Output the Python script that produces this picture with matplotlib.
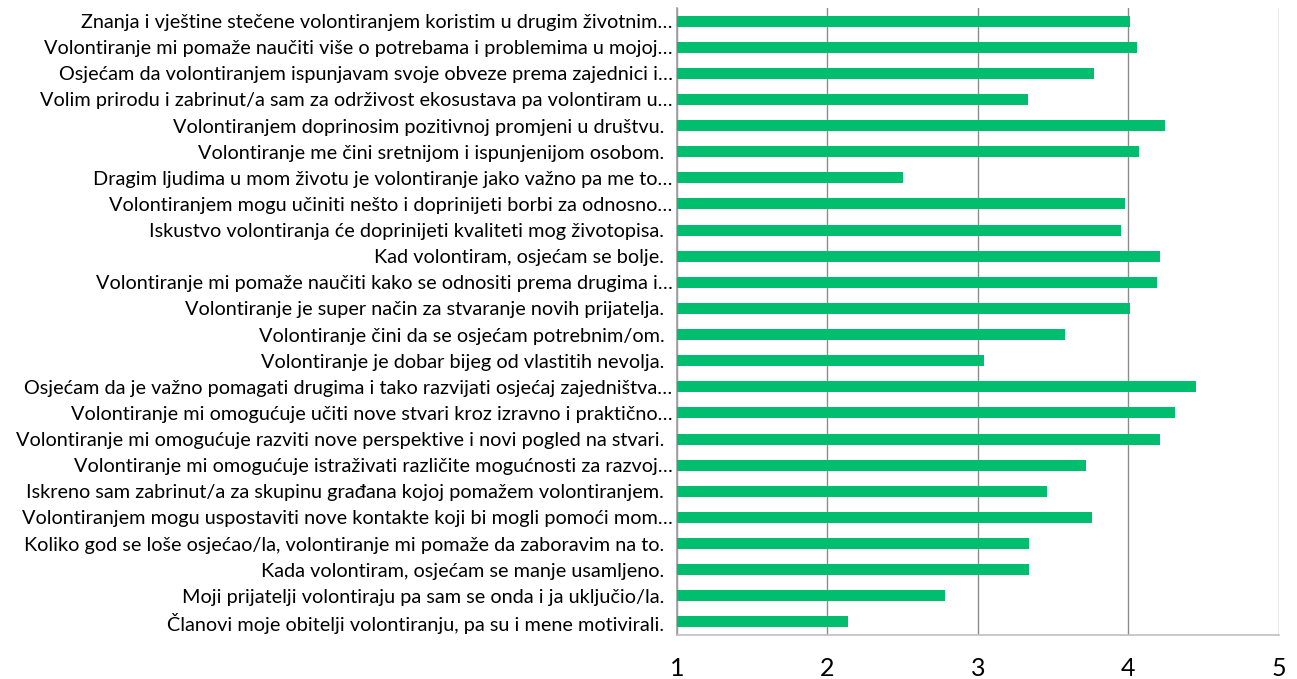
import matplotlib
matplotlib.use('Agg')
import matplotlib.pyplot as plt
import matplotlib.transforms as mtransforms
import numpy as np

plt.rcParams['font.family'] = ['Lato', 'DejaVu Sans']

# categories, top to bottom as in the chart
labels = [
    'Znanja i vještine stečene volontiranjem koristim u drugim životnim…',
    'Volontiranje mi pomaže naučiti više o potrebama i problemima u mojoj…',
    'Osjećam da volontiranjem ispunjavam svoje obveze prema zajednici i…',
    'Volim prirodu i zabrinut/a sam za održivost ekosustava pa volontiram u…',
    'Volontiranjem doprinosim pozitivnoj promjeni u društvu. ',
    'Volontiranje me čini sretnijom i ispunjenijom osobom. ',
    'Dragim ljudima u mom životu je volontiranje jako važno pa me to…',
    'Volontiranjem mogu učiniti nešto i doprinijeti borbi za odnosno…',
    'Iskustvo volontiranja će doprinijeti kvaliteti mog životopisa. ',
    'Kad volontiram, osjećam se bolje. ',
    'Volontiranje mi pomaže naučiti kako se odnositi prema drugima i…',
    'Volontiranje je super način za stvaranje novih prijatelja. ',
    'Volontiranje čini da se osjećam potrebnim/om. ',
    'Volontiranje je dobar bijeg od vlastitih nevolja. ',
    'Osjećam da je važno pomagati drugima i tako razvijati osjećaj zajedništva…',
    'Volontiranje mi omogućuje učiti nove stvari kroz izravno i praktično…',
    'Volontiranje mi omogućuje razviti nove perspektive i novi pogled na stvari. ',
    'Volontiranje mi omogućuje istraživati različite mogućnosti za razvoj…',
    'Iskreno sam zabrinut/a za skupinu građana kojoj pomažem volontiranjem. ',
    'Volontiranjem mogu uspostaviti nove kontakte koji bi mogli pomoći mom…',
    'Koliko god se loše osjećao/la, volontiranje mi pomaže da zaboravim na to. ',
    'Kada volontiram, osjećam se manje usamljeno. ',
    'Moji prijatelji volontiraju pa sam se onda i ja uključio/la. ',
    'Članovi moje obitelji volontiranju, pa su i mene motivirali. ',
]

means = [4.01, 4.06, 3.77, 3.33, 4.24, 4.07, 2.50, 3.98, 3.95, 4.21, 4.19, 4.01,
         3.58, 3.04, 4.45, 4.31, 4.21, 3.72, 3.46, 3.76, 3.34, 3.34, 2.78, 2.14]

xticks = [1, 2, 3, 4, 5]

fig = plt.figure(figsize=(12.97, 6.79), dpi=100)
ax = fig.add_axes([0.5218, 0.0648, 0.4643, 0.9234])

y = np.arange(len(labels))
base = 1
ax.barh(y, np.array(means) - base, left=base, height=0.42, color='#00BE6E', zorder=3)

ax.set_xlim(1, 5)
ax.set_ylim(len(labels) - 0.5, -0.5)
ax.set_xticks(xticks)
ax.set_xticklabels([str(t) for t in xticks], fontsize=18)
ax.set_yticks(y)
ax.set_yticklabels([l.rstrip() for l in labels], fontsize=14.3)

ax.tick_params(axis='y', length=0, pad=3)
ax.tick_params(axis='x', length=0, pad=16)

# labels that kept a trailing space sit a little further left
shift = mtransforms.ScaledTranslation(-6 / 72, 0, fig.dpi_scale_trans)
for lab, tl in zip(labels, ax.get_yticklabels()):
    if lab.endswith(' '):
        tl.set_transform(tl.get_transform() + shift)

ax.grid(axis='x', color='#8C8C8C', linewidth=1.0, zorder=0)
for s in ['top', 'right']:
    ax.spines[s].set_visible(False)
ax.spines['left'].set_color('#A0A0A0')
ax.spines['bottom'].set_color('#BFBFBF')
ax.spines['left'].set_linewidth(1.2)
ax.spines['bottom'].set_linewidth(1.2)

plt.savefig('out.png', dpi=100)
